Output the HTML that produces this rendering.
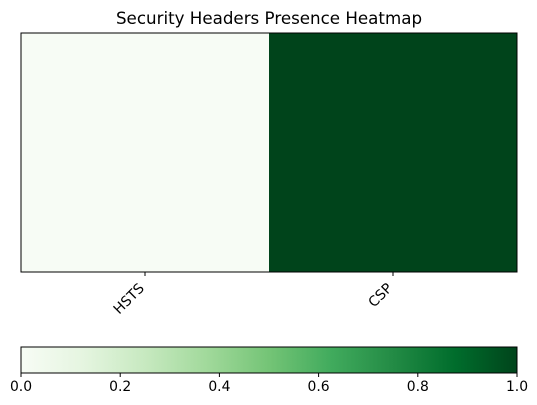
<!DOCTYPE html>
<html><head><meta charset="utf-8"><style>body{margin:0;background:#fff}svg{display:block;font-family:"DejaVu Sans","Liberation Sans",sans-serif}</style></head>
<body>
<svg id="c" width="537" height="405">
<defs><linearGradient id="g" x1="0" x2="1" y1="0" y2="0">
<stop offset="0" stop-color="#f7fcf5"/><stop offset="0.125" stop-color="#e5f5e0"/><stop offset="0.25" stop-color="#c7e9c0"/><stop offset="0.375" stop-color="#a1d99b"/><stop offset="0.5" stop-color="#74c476"/><stop offset="0.625" stop-color="#41ab5d"/><stop offset="0.75" stop-color="#238b45"/><stop offset="0.875" stop-color="#006d2c"/><stop offset="1" stop-color="#00441b"/></linearGradient></defs>
<text x="269" y="24" text-anchor="middle" font-size="16.7">Security Headers Presence Heatmap</text>
<g id="cells"></g>
<rect x="21" y="33" width="496" height="239" fill="none" stroke="#000" stroke-width="1"/>
<g id="xt"></g>
<rect x="21" y="347" width="496" height="26" fill="url(#g)" stroke="#000" stroke-width="1"/>
<g id="ct"></g>
</svg>
<script>
const categories=["HSTS","CSP"];
const values=[0,1];
const cbTicks=[0,0.2,0.4,0.6,0.8,1.0];
const cbLabels=["0.0","0.2","0.4","0.6","0.8","1.0"];
const ns="http://www.w3.org/2000/svg";
const L=21,R=517,T=33,B=272;
const stops=["#f7fcf5","#e5f5e0","#c7e9c0","#a1d99b","#74c476","#41ab5d","#238b45","#006d2c","#00441b"];
function col(v){const p=Math.max(0,Math.min(1,v))*8,i=Math.min(7,Math.floor(p)),f=p-i;
const a=stops[i],b=stops[i+1],h=(s,k)=>parseInt(s.substr(1+2*k,2),16);
return "rgb("+[0,1,2].map(k=>Math.round(h(a,k)+(h(b,k)-h(a,k))*f)).join(",")+")";}
const w=(R-L)/categories.length;
const xs=i=>L+w*i;
const cells=document.getElementById('cells'),xt=document.getElementById('xt'),ct=document.getElementById('ct');
categories.forEach((c,i)=>{
const r=document.createElementNS(ns,'rect');


r.setAttribute('x',xs(i));r.setAttribute('y',T);r.setAttribute('width',w);r.setAttribute('height',B-T);r.setAttribute('fill',col(values[i]));
cells.appendChild(r);
const cx=xs(i)+w/2;
const t=document.createElementNS(ns,'line');


t.setAttribute('x1',cx);t.setAttribute('x2',cx);t.setAttribute('y1',B);t.setAttribute('y2',B+4);t.setAttribute('stroke','#000');
xt.appendChild(t);
const l=document.createElementNS(ns,'text');


l.setAttribute('font-size','13.9');l.setAttribute('text-anchor','end');
l.setAttribute('transform','translate('+(cx)+','+(B+17)+') rotate(-45)');
l.textContent=c;xt.appendChild(l);
});
cbTicks.forEach((v,i)=>{
const x=L+(R-L)*v;
const t=document.createElementNS(ns,'line');


t.setAttribute('x1',x);t.setAttribute('x2',x);t.setAttribute('y1',373);t.setAttribute('y2',377);t.setAttribute('stroke','#000');
ct.appendChild(t);
const l=document.createElementNS(ns,'text');


l.setAttribute('x',x);l.setAttribute('y',391);l.setAttribute('font-size','13.9');l.setAttribute('text-anchor','middle');
l.textContent=cbLabels[i];ct.appendChild(l);
});
</script>
</body></html>
